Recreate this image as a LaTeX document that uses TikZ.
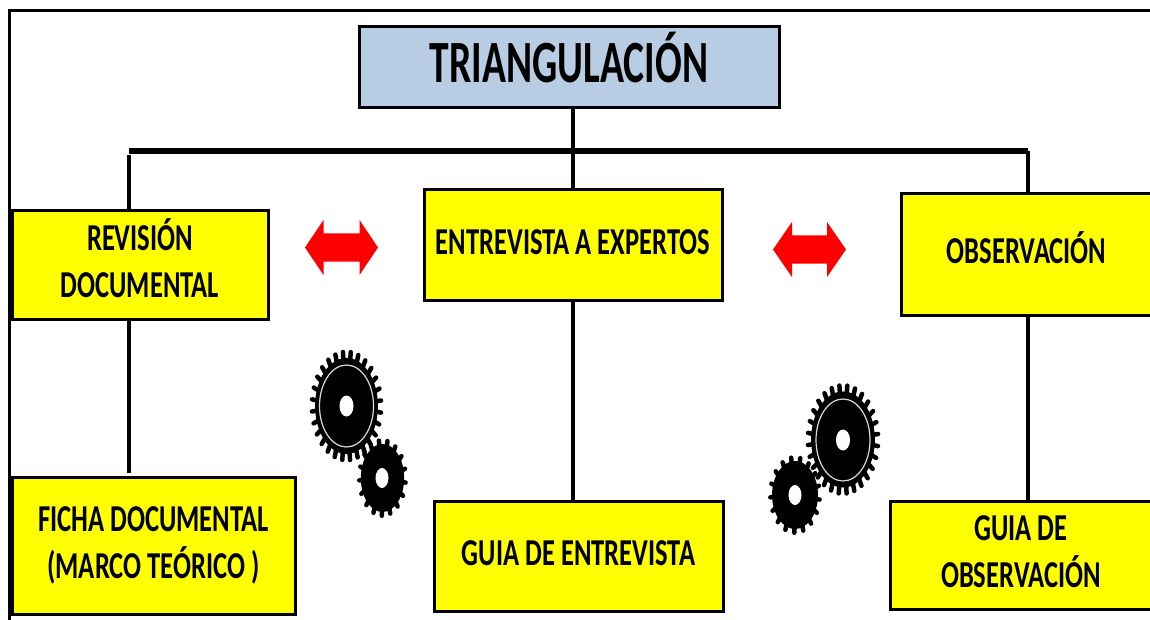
\documentclass[tikz,border=0pt]{standalone}
\usepackage{fontspec}
\setmainfont{Carlito}
\usepackage{graphicx}
\newcommand{\lbl}[2]{\scalebox{#1}[1]{\begin{tabular}{@{}c@{}}#2\end{tabular}}}
\definecolor{titlefill}{HTML}{B8CCE4}
\definecolor{boxfill}{HTML}{FFFF00}
\definecolor{arrowred}{HTML}{FF0000}
\tikzset{
  boxbase/.style={draw=black,line width=3pt,inner sep=0pt,outer sep=0pt,rectangle,align=center,text=black},
  ybox/.style={boxbase,fill=boxfill,font=\fontsize{38}{47}\selectfont\bfseries},
  tbox/.style={boxbase,fill=titlefill,font=\fontsize{60}{66}\selectfont\bfseries},
  link/.style={draw=black,line width=3.5pt},
  bar/.style={draw=black,line width=6pt},
  frameline/.style={draw=black,line width=3pt},
  dblarrow/.style={fill=arrowred,draw=none},
}
% cx, cy, rx, ry, teeth, ring?
\newcommand{\cog}[6]{%
  \foreach \i in {1,...,#5}{
    \pgfmathsetmacro{\ang}{360*\i/#5+7}
    \draw[black,line width=#6pt,line cap=round]
      ({#1+0.8*#3*cos(\ang)},{#2+0.8*#4*sin(\ang)}) --
      ({#1+(#3-#6/2)*cos(\ang)},{#2+(#4-#6/2)*sin(\ang)});
  }
  \fill[black] (#1,#2) ellipse [x radius={0.85*#3},y radius={0.85*#4}];
}
\begin{document}
\begin{tikzpicture}[x=1pt,y=-1pt]
\useasboundingbox (0,0) rectangle (1150,620);
\fill[white] (0,0) rectangle (1150,620);
\draw[frameline] (9.5,620) -- (9.5,10.5) -- (1150,10.5);

\node[tbox,minimum width=420pt,minimum height=81pt] (tri) at (569,67.5) {\lbl{0.66}{TRIANGULACIÓN}};
\node[ybox,minimum width=256pt,minimum height=108pt] (rev) at (140,265) {\lbl{0.70}{REVISIÓN\\DOCUMENTAL}};
\node[ybox,minimum width=298pt,minimum height=110pt] (ent) at (573,245) {\lbl{0.70}{ENTREVISTA A EXPERTOS}};
\node[ybox,minimum width=251pt,minimum height=121pt] (obs) at (1026.5,254.5) {\lbl{0.70}{OBSERVACIÓN}};
\node[ybox,minimum width=283pt,minimum height=137pt] (fic) at (153.5,545.5) {\lbl{0.70}{FICHA DOCUMENTAL\\(MARCO TEÓRICO )}};
\node[ybox,minimum width=289pt,minimum height=110pt] (gen) at (578.5,556) {\lbl{0.70}{GUIA DE ENTREVISTA}};
\node[ybox,minimum width=262pt,minimum height=108pt] (gob) at (1021,555) {\lbl{0.70}{GUIA DE\\OBSERVACIÓN}};

\coordinate (barL) at (129,151);
\coordinate (barM) at (573,151);
\coordinate (barR) at (1028,151);
\coordinate (dropL) at (129,155);
\coordinate (ficTop) at (129,473);
\draw[bar] (barL) -- (barR);
\draw[link] (tri.south -| barM) -- (barM);
\draw[link] (barM) -- (ent.north);
\draw[link] (dropL) -- (dropL |- rev.north);
\draw[link] (barR) -- (barR |- obs.north);
\draw[link] (ficTop |- rev.south) -- (ficTop);
\draw[link] (ent.south) -- (ent.south |- gen.north);
\draw[link] (barR |- obs.south) -- (barR |- gob.north);

\fill[dblarrow] (305,247.5) -- (323.5,220) -- (323.5,233.5) -- (359.5,233.5) -- (359.5,220) -- (378,247.5) -- (359.5,275) -- (359.5,261.5) -- (323.5,261.5) -- (323.5,275) -- cycle;
\fill[dblarrow] (773,249.5) -- (792,222) -- (792,235.5) -- (827,235.5) -- (827,222) -- (846,249.5) -- (827,277) -- (827,263.5) -- (792,263.5) -- (792,277) -- cycle;

\cog{346.5}{406}{37}{56.5}{28}{4.5}
\draw[white!85!black,line width=1.2pt] (346.5,406) ellipse [x radius=27,y radius=41];
\fill[white] (346.5,406) ellipse [x radius=7,y radius=10.5];
\cog{382.5}{478}{25.5}{40}{17}{4.5}
\fill[white] (382,478) ellipse [x radius=6.5,y radius=10];

\cog{843}{439.5}{37.5}{56.5}{28}{4.5}
\draw[white!85!black,line width=1.2pt] (843,440) ellipse [x radius=27,y radius=41];
\fill[white] (843,440) ellipse [x radius=7,y radius=10.5];
\cog{795}{495}{27}{40}{17}{4.5}
\fill[white] (795,495) ellipse [x radius=6.5,y radius=10];
\end{tikzpicture}
\end{document}
